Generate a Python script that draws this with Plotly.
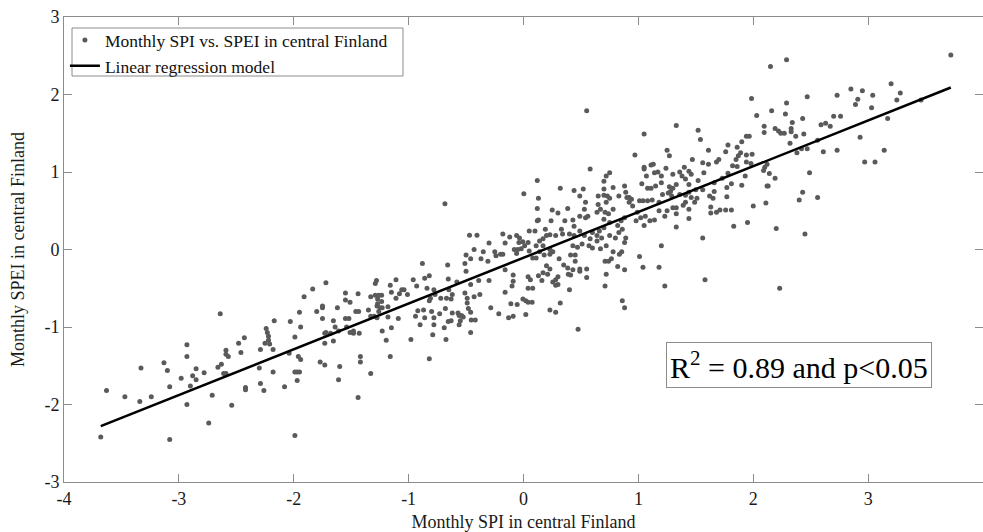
import plotly.graph_objects as go

# Monthly SPI (x) and SPEI (y) values
spi = [
    -1.91, -1.95, -1.94, -2.03, -1.99, -2.64, -2.17, -2.24, -2.23, -2.22, -2.22, -2.25, -2.21, -2.29, -2.18,
    -2.43, -2.48, -2.46, -2.59, -2.59, -2.57, -2.93, -2.93, -3.13, -3.10, -3.33, -3.63, -3.47, -3.34, -3.24,
    -3.68, -3.08, -3.08, -2.98, -2.90, -2.88, -2.85, -2.85, -2.78, -2.93, -2.74, -2.71, -2.66, -2.63, -2.61,
    -2.59, -2.54, -2.42, -2.42, -2.30, -2.29, -2.26, -2.18, -2.08, -2.04, -1.96, -1.94, -1.99, -1.97, -1.95,
    -1.97, -1.99,
    -1.835, -1.72, -1.80, -1.75, -1.75, -1.75, -1.73, -1.72, -1.73, -1.68, -1.655, -1.64, -1.655, -1.62, -1.61,
    -1.55, -1.55, -1.51, -1.55, -1.52, -1.54, -1.51, -1.48, -1.48, -1.46, -1.435, -1.44, -1.43, -1.35, -1.33,
    -1.33, -1.29, -1.28, -1.29, -1.26, -1.235, -1.27, -1.27, -1.275, -1.25, -1.235, -1.26, -1.30, -1.275, -1.23,
    -1.23, -1.195, -1.18, -1.18, -1.16, -1.15, -1.15, -1.11, -1.11, -1.09, -1.08, -1.06, -1.04, -1.01, -1.16,
    -1.42, -1.42, -1.33, -1.60, -1.61, -1.77, -1.73, -1.44, -0.98, -0.96, -0.93, -0.88, -0.86, -0.82, -0.84,
    -0.94, -0.92, -0.90, -0.87, -0.86, -0.82, -0.81, -0.80, -0.79, -0.78, -0.78, -0.78, -0.77, -0.82, -0.73,
    -0.72, -0.69, -0.675, -0.68, -0.67, -0.66, -0.655, -0.65, -0.655, -0.63, -0.63, -0.62, -0.62, -0.58, -0.57,
    -0.56, -0.55, -0.56, -0.54, -0.525, -0.51, -0.50, -0.50, -0.51, -0.49, -0.49, -0.48, -0.46, -0.46, -0.46,
    -0.455, -0.42, -0.46, -0.43, -0.43, -0.38, -0.39, -0.37, -0.35, -0.31, -0.30, -0.285, -0.25, -0.24, -0.215,
    -0.20, -0.18, -0.16, -0.16, -0.13, -0.09, -0.11, -0.10, -0.09, -0.09, -0.055, -0.06, -0.05, -0.02, -0.005,
    0.02, 0.02, 0.04, 0.04,
    0.04, 0.075, 0.06, 0.08, 0.13, 0.16, 0.17, 0.21, 0.20, 0.23, 0.255, 0.28, 0.30, 0.30, 0.28,
    0.32, 0.23, 0.28, 0.40, 0.39, 0.41, 0.43, 0.45, 0.49, 0.49, 0.55, 0.55, 0.475, 0.31, 0.35,
    0.385, 0.41, 0.47, 0.45, 0.14, 0.18, 0.23, 0.255, 0.11, 0.05, 0.08, 0.60, 0.67, 0.71, 0.74,
    0.765, 0.72, 0.71, 0.78, 0.82, 0.835, 0.855, 0.88, 0.86, 0.88, 1.01, 1.04, 1.18, 1.20, 1.23,
    1.58, 2.23,
    -0.684, -0.47, -0.405, -0.18, -0.035, -0.30, -0.16, -0.006,
    0.55, 1.33, 1.05, 1.52, 1.54, 0.97, 1.25, 1.27, 1.61, 1.78, 1.76, 1.90, 1.94, 1.86, 1.89,
    1.87, 1.94, 1.94, 1.85, 1.70, 1.68, 1.61, 1.56, 1.47, 1.57, 1.52, 1.82, 1.86, 1.78, 1.93,
    1.73, 1.77, 1.81, 1.66, 1.66, 1.62, 1.65, 1.77, 1.63, 1.71, 1.76, 1.81, 1.63, 1.68, 1.83,
    1.95, 1.56, 1.44, 1.46, 1.44, 1.40, 1.41, 1.36, 1.38, 1.30, 1.24, 1.20, 1.17, 1.13, 1.11,
    1.05, 1.05, 1.07, 1.14, 1.03, 1.08, 1.11, 1.15, 1.20, 1.27, 1.30, 1.28, 1.26, 1.21, 1.29,
    1.33, 1.36, 1.41, 1.44, 1.46, 1.50, 1.56, 1.51, 1.49, 1.41, 1.44, 1.39, 1.33, 1.30, 1.25,
    1.33, 1.44, 1.33, 1.23, 1.18, 1.18, 1.12, 1.08, 1.04, 1.01, 0.94, 0.92, 0.90, 0.89, 0.88,
    0.92, 0.99, 1.02, 1.06, 1.10, 1.14, 1.05, 0.98, 0.95, 0.83, 0.78, 0.75, 0.72, 0.70, 0.70,
    0.73, 0.75, 0.72, 0.65, 0.67, 0.71, 0.74, 0.70, 0.75, 0.78, 0.85, 0.88, 0.82, 0.86, 0.83,
    0.89, 0.88, 0.80, 0.75, 0.70, 0.66, 0.64, 0.68, 0.64, 0.72, 0.60, 0.58, 0.53, 0.49, 0.44,
    0.51, 0.43, 0.57, 0.34, 0.28, 0.23, 0.20, 0.17, 0.14, 0.17, 0.23, 0.11, 0.05, 0.10, 0.04,
    0.01, -0.04, -0.06, -0.12, -0.08, 0.40, 0.49, 0.54, 0.56, 0.53, 0.54, 0.52, 0.44, 0.49, 0.43,
    0.385, 0.32, 0.25, 0.30, 0.24, 0.19, 0.12, 0.13, 0.12, 0.13, 0.12, 0.003, 0.58, 0.65, 0.70,
    0.64, 0.36, 0.44, 0.33,
    3.72, 2.15, 2.29, 1.985, 2.03, 2.16, 2.29, 2.28, 2.47, 2.73, 2.85, 2.95, 3.04, 3.20, 3.28,
    3.25, 3.46, 2.89, 2.91, 3.03, 3.17, 3.14, 2.97, 3.06, 2.93, 2.76, 2.70, 2.43, 2.34, 2.33,
    2.33, 2.095, 2.095, 2.19, 2.22, 2.24, 2.27, 2.37, 2.44, 2.32, 2.59, 2.63, 2.67, 2.56, 2.42,
    2.38, 2.47, 2.61, 2.73, 1.965, 1.99, 1.98, 1.90, 2.09, 2.10, 2.12, 2.14, 2.19, 2.12, 2.13,
    2.49, 2.00, 2.11, 2.20, 2.40, 2.43, 2.56, 2.45,
]
spei = [
    -0.61, -0.81, -1.00, -0.93, -1.13, -0.83, -0.92, -1.02, -1.07, -1.12, -1.17, -1.21, -1.22, -1.29, -1.29,
    -1.14, -1.21, -1.33, -1.30, -1.35, -1.38, -1.23, -1.38, -1.46, -1.56, -1.53, -1.82, -1.90, -1.96, -1.90,
    -2.42, -2.45, -1.77, -1.66, -1.76, -1.63, -1.54, -1.68, -1.59, -2.00, -2.24, -1.88, -1.52, -1.48, -1.60,
    -1.60, -2.01, -1.78, -1.81, -1.53, -1.73, -1.82, -1.58, -1.77, -1.34, -1.38, -1.42, -1.58, -1.58, -1.58,
    -1.69, -2.40,
    -0.51, -0.43, -0.80, -0.73, -0.75, -0.89, -1.08, -1.07, -1.21, -1.08, -0.92, -1.00, -1.18, -0.75, -1.05,
    -0.56, -0.65, -0.68, -0.89, -0.89, -1.00, -1.07, -1.08, -1.05, -0.80, -0.80, -0.57, -1.08, -0.78, -0.61,
    -0.86, -0.44, -0.40, -0.59, -0.59, -0.59, -0.64, -0.70, -0.73, -0.75, -0.67, -0.80, -0.86, -0.88, -0.75,
    -1.05, -1.17, -0.74, -0.87, -0.46, -0.55, -1.01, -0.39, -0.63, -0.89, -0.57, -0.52, -0.52, -0.58, -1.38,
    -1.38, -1.45, -1.60, -1.51, -1.68, -1.45, -1.49, -1.91, -1.16, -0.39, -0.47, -0.18, -0.37, -0.34, -0.50,
    -0.86, -0.79, -0.97, -0.78, -0.88, -0.66, -0.63, -0.80, -1.10, -0.88, -0.97, -0.52, -0.58, -1.41, -0.83,
    -0.63, -1.01, -1.16, -0.76, -0.63, -0.20, -0.38, -0.52, -0.93, -0.92, -0.64, -0.82, -0.58, -0.42, -0.82,
    -0.85, -0.92, -0.97, -0.85, -0.87, -0.18, -0.07, -0.28, -0.56, -0.63, -0.69, -0.76, -0.12, -0.45, -0.81,
    -0.91, -0.91, -1.07, 0.00, -0.61, -0.58, -0.40, -0.12, -0.03, -0.15, -0.40, -0.75, -0.03, -0.08, -0.83,
    -0.06, -0.06, -0.26, -0.55, -0.88, -0.86, -0.70, -0.47, -0.41, -0.33, -0.71, -0.05, 0.00, 0.01, -0.64,
    -0.66, -0.84, -0.35, -0.50,
    -0.68, -0.68, -0.39, -0.50, -0.34, -0.40, -0.30, -0.32, -0.21, -0.25, -0.42, -0.39, -0.35, -0.45, -0.46,
    -0.69, -0.78, -0.81, -0.52, -0.32, -0.33, -0.26, -0.15, -0.25, -0.28, -0.25, -0.36, -1.03, -0.12, -0.20,
    -0.24, -0.07, 0.03, -0.07, -0.03, -0.07, -0.06, -0.03, -0.11, -0.02, -0.11, 0.02, 0.01, -0.15, -0.15,
    -0.12, -0.32, -0.47, -0.03, -0.22, -0.06, -0.03, -0.26, -0.66, -0.75, -0.09, -0.23, -0.23, 0.05, -0.47,
    -0.39, -0.50,
    0.59, 0.185, 0.185, 0.20, 0.15, 0.085, 0.085, 0.10,
    1.79, 1.60, 1.49, 1.54, 1.42, 1.22, 1.28, 1.21, 1.28, 1.35, 1.26, 1.39, 1.46, 1.32, 1.25,
    1.21, 1.22, 1.13, 1.16, 1.16, 1.13, 1.10, 1.12, 1.16, 0.99, 0.89, 1.08, 1.07, 0.985, 0.95,
    0.92, 0.80, 0.85, 0.86, 0.75, 0.69, 0.66, 0.68, 0.55, 0.51, 0.51, 0.51, 0.47, 0.48, 0.30,
    0.35, 0.15, 1.01, 0.97, 0.84, 1.06, 0.91, 1.00, 0.95, 0.97, 1.05, 0.95, 1.00, 1.10, 1.09,
    1.06, 1.04, 0.95, 0.99, 0.85, 0.79, 0.79, 0.82, 0.86, 0.81, 0.79, 0.75, 0.73, 0.71, 0.69,
    0.84, 0.71, 0.70, 0.74, 0.67, 0.77, 0.77, 0.66, 0.61, 0.61, 0.52, 0.57, 0.54, 0.54, 0.50,
    0.46, 0.40, 0.29, 0.43, 0.61, 0.50, 0.64, 0.63, 0.63, 0.63, 0.65, 0.67, 0.67, 0.74, 0.82,
    0.61, 0.48, 0.41, 0.43, 0.37, 0.38, 0.31, 0.37, 0.56, 0.69, 0.80, 0.99, 0.95, 0.88, 0.78,
    0.69, 0.66, 0.61, 0.58, 0.52, 0.48, 0.46, 0.39, 0.35, 0.52, 0.37, 0.41, 0.31, 0.26, 0.22,
    0.15, 0.09, 0.15, 0.18, 0.28, 0.24, 0.18, 0.15, 0.11, 0.05, 0.22, 0.14, 0.18, 0.24, 0.18,
    0.07, 0.05, 0.05, 0.20, 0.18, 0.19, 0.18, 0.14, 0.11, 0.05, 0.00, 0.05, 0.24, 0.24, 0.09,
    0.05, 0.09, 0.18, 0.16, 0.00, 0.20, 0.43, 0.41, 0.43, 0.52, 0.61, 0.78, 0.76, 0.69, 0.38,
    0.53, 0.79, 0.51, 0.47, 0.37, 0.26, 0.37, 0.38, 0.53, 0.66, 0.89, 0.72, 1.04, 0.69, 0.70,
    0.48, 0.37, 0.30, 0.26,
    2.51, 2.36, 2.45, 1.95, 1.73, 1.79, 1.89, 1.75, 1.97, 1.99, 2.07, 2.05, 1.99, 2.14, 2.02,
    1.93, 1.93, 1.87, 1.94, 1.83, 1.69, 1.28, 1.13, 1.13, 1.45, 1.72, 1.72, 1.69, 1.64, 1.56,
    1.52, 1.59, 1.51, 1.56, 1.53, 1.50, 1.50, 1.46, 1.49, 1.37, 1.61, 1.63, 1.59, 1.41, 1.30,
    1.25, 1.30, 1.26, 1.28, 1.46, 1.23, 1.11, 0.83, 1.02, 1.06, 1.10, 0.98, 0.92, 0.82, 0.82,
    0.99, 0.56, 0.60, 0.27, 0.64, 0.74, 0.67, 0.20,
]

# Regression line end points
fit_x = [-3.68, 3.72]
fit_y = [-2.28, 2.09]

scatter_label = "Monthly SPI vs. SPEI in central Finland"
fit_label = "Linear regression model"
stats_text = "R<sup>2</sup> = 0.89 and p&lt;0.05"
x_ticks = [-4, -3, -2, -1, 0, 1, 2, 3, 4]
y_ticks = [-3, -2, -1, 0, 1, 2, 3]

FONT = "Liberation Serif, Times New Roman, serif"
AXC = "#8c8c8c"
TXT = "#1a1a1a"

fig = go.Figure()
fig.add_trace(go.Scatter(
    x=spi, y=spei, mode="markers", name=scatter_label,
    marker=dict(color="#5a5a5a", size=5, line=dict(width=0)),
))
fig.add_trace(go.Scatter(
    x=fit_x, y=fit_y, mode="lines", name=fit_label,
    line=dict(color="black", width=2.5),
))

axis_common = dict(
    showgrid=False, zeroline=False, showline=True, linecolor=AXC, linewidth=1,
    mirror="ticks", ticks="inside", ticklen=8, tickcolor=AXC, tickwidth=1,
    tickfont=dict(family=FONT, size=18, color=TXT), automargin=False,
)
fig.update_xaxes(range=[-4, 4], tickvals=x_ticks, ticktext=[str(v) for v in x_ticks],
                 title=dict(text="Monthly SPI in central Finland", font=dict(family=FONT, size=18, color=TXT)),
                 **axis_common)
fig.update_yaxes(range=[-3, 3], tickvals=y_ticks, ticktext=[str(v) for v in y_ticks],
                 title=dict(text="Monthly SPEI in central Finland", font=dict(family=FONT, size=18, color=TXT)),
                 **axis_common)

fig.add_annotation(
    x=2.40, y=-1.494, xref="x", yref="y", text=stats_text, showarrow=False,
    font=dict(family=FONT, size=30, color="black"),
    bordercolor=AXC, borderwidth=1, borderpad=3, bgcolor="white",
)

# Legend frame (drawn as a shape so its size matches the reference)
fig.add_shape(type="rect", xref="paper", yref="paper",
              x0=(72 - 64) / 919, x1=(403 - 64) / 919,
              y0=1 - (76 - 17) / 465, y1=1 - (28 - 17) / 465,
              line=dict(color=AXC, width=1), fillcolor="white", layer="above")

fig.update_layout(
    width=983, height=532,
    margin=dict(l=64, r=0, t=17, b=50),
    plot_bgcolor="white", paper_bgcolor="white",
    font=dict(family=FONT, color=TXT),
    legend=dict(
        x=0.001, y=0.989, xanchor="left", yanchor="top",
        borderwidth=0, bgcolor="rgba(0,0,0,0)",
        font=dict(family=FONT, size=17.5, color="#111"),
        itemwidth=30, tracegroupgap=0,
    ),
)

fig.write_html("out.html", config={"displayModeBar": False})

# remove the default page margin so the figure sits at the window's top-left corner
with open("out.html", "r", encoding="utf-8") as f:
    html = f.read()
html = html.replace("<head>", "<head><style>html,body{margin:0;padding:0;overflow:hidden;}</style>", 1)
with open("out.html", "w", encoding="utf-8") as f:
    f.write(html)
